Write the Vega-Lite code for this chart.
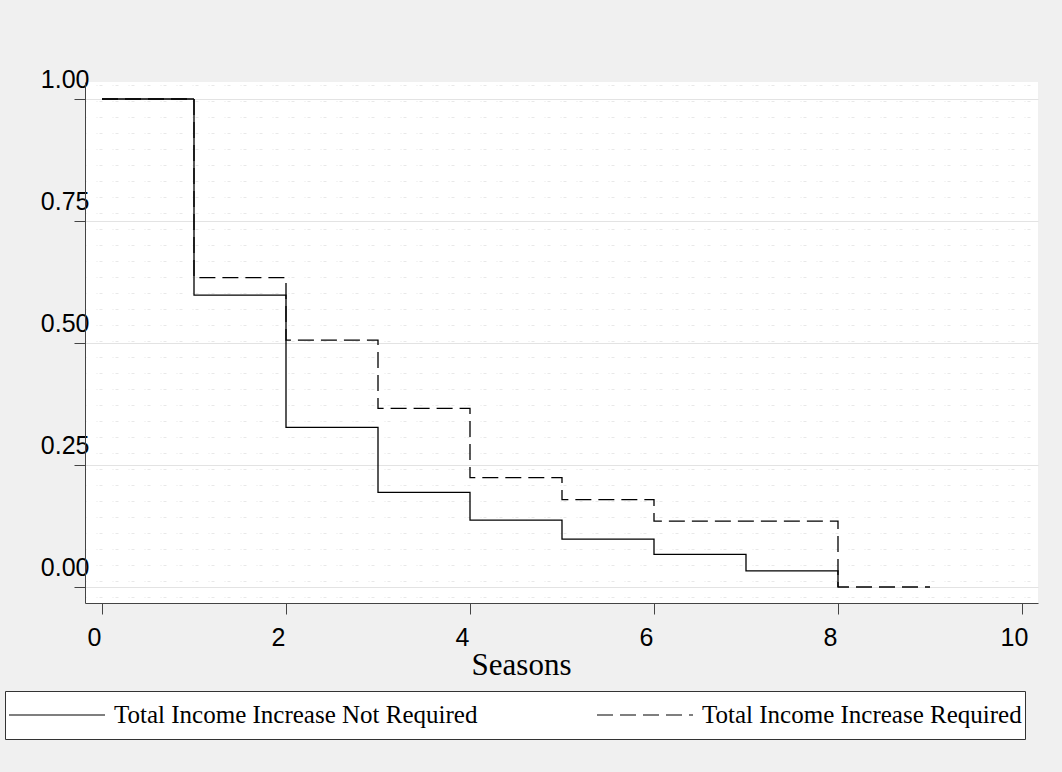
{
  "$schema": "https://vega.github.io/schema/vega-lite/v6.json",
  "width": 953,
  "height": 521,
  "autosize": {"type": "none"},
  "padding": {"left": 85, "top": 82, "right": 24, "bottom": 169},
  "background": "#f0f0f0",
  "config": {
    "view": {"stroke": null, "fill": "white"},
    "axis": {"labelFont": "Liberation Sans", "labelFontSize": 25, "labelColor": "black", "tickColor": "#444", "domainColor": "#444", "tickSize": 11, "labelOverlap": false, "labelFlush": false}
  },
  "data": {
    "values": [
      {"season": 0, "surv": 1.0, "group": "Total Income Increase Not Required"},
      {"season": 1, "surv": 0.598, "group": "Total Income Increase Not Required"},
      {"season": 2, "surv": 0.327, "group": "Total Income Increase Not Required"},
      {"season": 3, "surv": 0.194, "group": "Total Income Increase Not Required"},
      {"season": 4, "surv": 0.137, "group": "Total Income Increase Not Required"},
      {"season": 5, "surv": 0.098, "group": "Total Income Increase Not Required"},
      {"season": 6, "surv": 0.067, "group": "Total Income Increase Not Required"},
      {"season": 7, "surv": 0.033, "group": "Total Income Increase Not Required"},
      {"season": 8, "surv": 0.0, "group": "Total Income Increase Not Required"},
      {"season": 0, "surv": 1.0, "group": "Total Income Increase Required"},
      {"season": 1, "surv": 0.634, "group": "Total Income Increase Required"},
      {"season": 2, "surv": 0.506, "group": "Total Income Increase Required"},
      {"season": 3, "surv": 0.366, "group": "Total Income Increase Required"},
      {"season": 4, "surv": 0.224, "group": "Total Income Increase Required"},
      {"season": 5, "surv": 0.179, "group": "Total Income Increase Required"},
      {"season": 6, "surv": 0.135, "group": "Total Income Increase Required"},
      {"season": 8, "surv": 0.0, "group": "Total Income Increase Required"},
      {"season": 9, "surv": 0.0, "group": "Total Income Increase Required"}
    ]
  },
  "layer": [
    {
      "mark": {"type": "line", "opacity": 0},
      "encoding": {
        "x": {"field": "season", "type": "quantitative", "scale": {"domain": [-0.1848, 10.174], "nice": false, "zero": false}},
        "y": {"field": "surv", "type": "quantitative", "scale": {"domain": [-0.0328, 1.0348], "nice": false, "zero": false},
          "axis": {"orient": "right", "title": null, "labels": false, "ticks": false, "domain": false, "grid": true, "gridColor": "#e8e8e8", "gridWidth": 1, "gridDash": [3, 2, 1, 10], "gridDashOffset": 8,
            "values": [1.0281, 0.9953, 0.9625, 0.9297, 0.8969, 0.8642, 0.8314, 0.7986, 0.7658, 0.733, 0.7002, 0.6674, 0.6346, 0.6019, 0.5691, 0.5363, 0.5035, 0.4707, 0.4379, 0.4051, 0.3724, 0.3396, 0.3068, 0.274, 0.2412, 0.2084, 0.1756, 0.1428, 0.1101, 0.0773, 0.0445, 0.0117, -0.0211]}}
      }
    },
    {
      "mark": {"type": "line", "interpolate": "step-after", "color": "black", "strokeWidth": 1.3},
      "encoding": {
        "x": {"field": "season", "type": "quantitative", "scale": {"domain": [-0.1848, 10.174], "nice": false, "zero": false},
          "axis": {"values": [0, 2, 4, 6, 8, 10], "format": "d", "grid": false, "ticks": true, "labelBaseline": "alphabetic", "labelPadding": 31, "labelOffset": -8,
            "title": "Seasons", "titleFont": "Liberation Serif", "titleFontSize": 31, "titleFontWeight": "normal", "titleColor": "black", "titleX": 436, "titleY": 71, "titleBaseline": "alphabetic", "titleAlign": "center", "titleAnchor": "middle"}},
        "y": {"field": "surv", "type": "quantitative", "scale": {"domain": [-0.0328, 1.0348], "nice": false, "zero": false},
          "axis": {"orient": "left", "values": [0, 0.25, 0.5, 0.75, 1], "format": ".2f", "title": null, "grid": true, "gridColor": "#e3e3e3", "ticks": true, "labelAlign": "right", "labelBaseline": "middle", "labelOffset": -19, "labelPadding": -15}},
        "strokeDash": {"field": "group", "type": "nominal",
          "scale": {"domain": ["Total Income Increase Not Required", "Total Income Increase Required"], "range": [[1, 0], [16, 7]]},
          "legend": {"title": null, "orient": "none", "legendX": -80, "legendY": 609, "direction": "horizontal", "columns": 2, "gridAlign": "all", "columnPadding": 118, "padding": 3, "clipHeight": 42,
            "symbolType": "stroke", "symbolSize": 9216, "symbolStrokeColor": "black", "symbolStrokeWidth": 1.2, "labelOffset": 8,
            "labelFont": "Liberation Serif", "labelFontSize": 25, "labelColor": "black", "labelLimit": 600, "fillColor": "white", "strokeColor": "#333", "cornerRadius": 0,
            "encode": {"symbols": {"update": {"strokeDash": {"signal": "datum.value == 'Total Income Increase Required' ? [11, 6] : [1, 0]"}}}}}}
      }
    }
  ],
  "resolve": {"axis": {"y": "independent"}}
}
